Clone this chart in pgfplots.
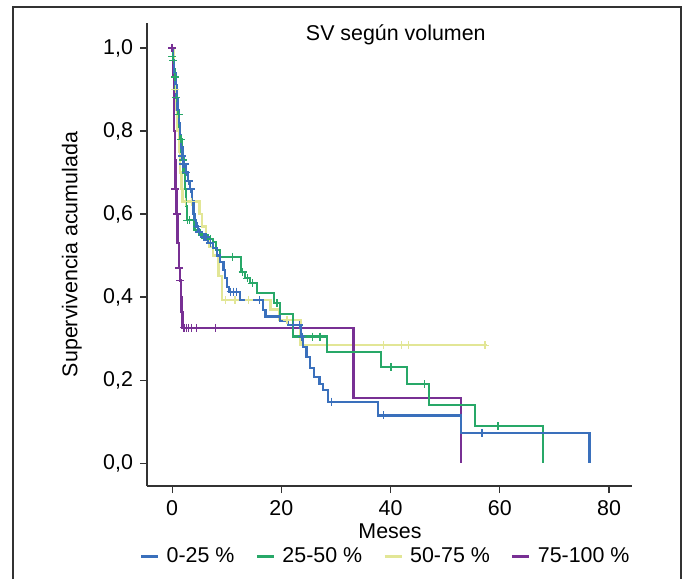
\documentclass[border=0pt]{standalone}
\usepackage{pgfplots}
\pgfplotsset{compat=1.18}
\usepackage{fontspec}
\setmainfont{Liberation Sans}
\definecolor{cblue}{RGB}{58,112,188}
\definecolor{cgreen}{RGB}{40,168,104}
\definecolor{cyellow}{RGB}{226,230,150}
\definecolor{cpurple}{RGB}{120,48,148}
\definecolor{frame}{RGB}{50,50,50}
\begin{document}
\begin{tikzpicture}[font=\fontsize{10.7}{12.8}\selectfont]
\useasboundingbox (0,0) rectangle (343pt,-289.5pt);
\draw[frame, line width=0.9pt] (6.5pt,-289.5pt) -- (6.5pt,-3.5pt) -- (340.5pt,-3.5pt) -- (340.5pt,-289.5pt);
\begin{axis}[
  at={(73.5pt,-243pt)}, anchor=south west,
  scale only axis, width=242.5pt, height=231.5pt,
  xmin=-4.6, xmax=84.2, ymin=-0.055, ymax=1.06,
  axis x line*=bottom, axis y line*=left,
  axis line style={-, line width=0.6pt, black!80},
  tick align=outside, major tick length=3.5pt,
  tick style={line width=0.6pt, black!80},
  xtick={0,20,40,60,80},
  ytick={0,0.2,0.4,0.6,0.8,1.0},
  /pgf/number format/assume math mode=true,
  yticklabel style={/pgf/number format/.cd, use comma, fixed, fixed zerofill, precision=1},
  title={SV según volumen},
  title style={at={(0.513,1)}, anchor=north, yshift=-3.5pt},
  xlabel={Meses},
  xlabel style={at={(axis description cs:0.501,-0.097)}, anchor=center},
  ylabel={Supervivencia acumulada},
  ylabel style={at={(axis description cs:-0.155,0.5)}, anchor=center},
  legend columns=4,
  legend style={at={(axis description cs:0.494,-0.153)}, anchor=center, draw=none, fill=none,
    /tikz/every even column/.append style={column sep=8.5pt},
    /tikz/every odd column/.append style={column sep=1.5pt}},
  legend cell align=left,
  legend image code/.code={\draw[#1, line width=1.5pt] (0pt,0pt) -- (8.5pt,0pt);},
]
\addlegendimage{cblue}\addlegendentry{0-25 \%}
\addlegendimage{cgreen}\addlegendentry{25-50 \%}
\addlegendimage{cyellow}\addlegendentry{50-75 \%}
\addlegendimage{cpurple}\addlegendentry{75-100 \%}

% 50-75 %
\addplot[cyellow, line width=1.1pt, const plot, forget plot] coordinates {
(0,1.0)(0.3,0.95)(0.5,0.90)(0.8,0.85)(1.0,0.80)(1.3,0.75)(1.5,0.70)(1.7,0.66)(1.9,0.63)(5.0,0.60)(5.5,0.57)(6.2,0.545)(6.8,0.52)(7.5,0.50)(8.5,0.45)(9.1,0.393)(18.0,0.37)(19.5,0.345)(23.5,0.284)(57.6,0.284)};
\addplot[cyellow, only marks, mark=+, mark size=2pt, line width=0.7pt, forget plot] coordinates {
(0.6,0.90)(2.5,0.63)(3.5,0.63)(9.8,0.393)(11.5,0.393)(14.0,0.393)(21,0.345)(38.7,0.284)(42.0,0.284)(43.3,0.284)(57.3,0.284)};

% 75-100 %
\addplot[cpurple, line width=1.1pt, const plot, forget plot] coordinates {
(0,1.0)(0.15,0.93)(0.3,0.87)(0.4,0.80)(0.5,0.73)(0.6,0.66)(0.8,0.60)(1.0,0.53)(1.2,0.47)(1.4,0.44)(1.6,0.40)(1.7,0.365)(1.9,0.326)(33.2,0.157)(52.9,0.0)};
\addplot[cpurple, only marks, mark=+, mark size=2pt, line width=0.7pt, forget plot] coordinates {
(0,1.0)(0.6,0.66)(0.9,0.60)(1.3,0.47)(1.5,0.44)(2.2,0.326)(2.6,0.326)(3.0,0.326)(3.5,0.326)(4.5,0.326)(7.9,0.326)};

% 25-50 %
\addplot[cgreen, line width=1.1pt, const plot, forget plot] coordinates {
(0,1.0)(0.1,0.97)(0.3,0.95)(0.5,0.93)(0.6,0.90)(0.7,0.88)(0.9,0.86)(1.1,0.84)(1.3,0.81)(1.5,0.78)(1.7,0.75)(1.9,0.73)(2.1,0.70)(2.3,0.66)(2.5,0.62)(2.7,0.585)(4.1,0.561)(5.0,0.55)(6.5,0.54)(7.5,0.533)(8.1,0.513)(8.8,0.497)(12.6,0.46)(13.3,0.445)(14.3,0.433)(15.5,0.409)(18.6,0.385)(19.8,0.36)(22.2,0.305)(28.3,0.268)(38.2,0.232)(43.0,0.19)(47.1,0.14)(55.5,0.089)(67.9,0.0)};
\addplot[cgreen, only marks, mark=+, mark size=2pt, line width=0.7pt, forget plot] coordinates {
(0.05,0.98)(0.2,0.97)(0.5,0.93)(0.8,0.88)(1.2,0.84)(1.6,0.78)(2.0,0.73)(2.8,0.585)(3.2,0.585)(5.5,0.55)(7.0,0.54)(11.0,0.497)(12.9,0.46)(13.8,0.445)(14.7,0.433)(19.2,0.385)(25.7,0.305)(27.1,0.305)(40.1,0.232)(46.2,0.19)(59.7,0.089)};

% 0-25 %
\addplot[cblue, line width=1.1pt, const plot, forget plot] coordinates {
(0,1.0)(0.2,0.97)(0.4,0.94)(0.6,0.91)(0.8,0.88)(1.0,0.85)(1.2,0.82)(1.4,0.79)(1.6,0.76)(1.9,0.74)(2.2,0.72)(2.5,0.70)(2.9,0.68)(3.2,0.66)(3.6,0.63)(3.9,0.60)(4.1,0.585)(4.4,0.57)(4.8,0.557)(5.4,0.545)(6.6,0.53)(7.5,0.518)(8.2,0.50)(8.8,0.485)(9.4,0.465)(9.7,0.446)(10.1,0.425)(10.4,0.413)(12.5,0.393)(16.7,0.368)(17.1,0.353)(19.8,0.343)(21.2,0.333)(23.6,0.305)(24.0,0.28)(24.6,0.256)(25.3,0.23)(26.0,0.208)(27.0,0.19)(27.6,0.176)(28.5,0.148)(37.7,0.115)(52.9,0.073)(76.4,0.0)};
\addplot[cblue, only marks, mark=+, mark size=2pt, line width=0.7pt, forget plot] coordinates {
(1.8,0.74)(2.0,0.72)(2.3,0.72)(2.6,0.70)(3.0,0.68)(3.4,0.66)(4.6,0.57)(5.0,0.557)(5.8,0.545)(6.2,0.545)(7.0,0.53)(10.7,0.413)(11.2,0.413)(11.8,0.413)(16.0,0.393)(22.2,0.333)(23.3,0.333)(23.8,0.305)(29.2,0.148)(38.7,0.115)(56.7,0.073)};
\end{axis}
\end{tikzpicture}
\end{document}
